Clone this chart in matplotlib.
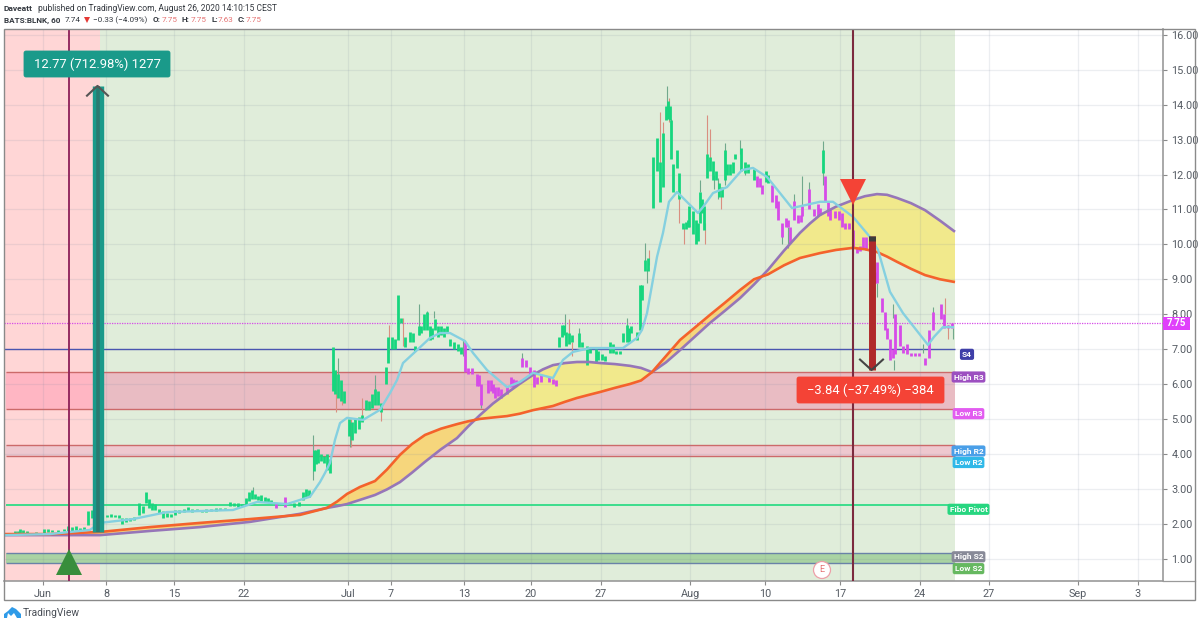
import matplotlib
matplotlib.use("Agg")
import matplotlib.pyplot as plt
from matplotlib.patches import Rectangle, FancyBboxPatch, Polygon, Circle

# ---------- axis ----------
time_ticks = [43, 106, 174, 244, 348, 391, 464, 531, 601, 690, 765, 840, 920, 989, 1078, 1138]
time_labels = ["Jun", "8", "15", "22", "Jul", "7", "13", "20", "27", "Aug", "10", "17", "24", "27", "Sep", "3"]
price_ticks = list(range(1, 17))

# ---------- candles: (bar position, low, high) ----------
green_early = [(15,1.68,1.78),(18,1.7,1.8),(20,1.72,1.85),(23,1.72,1.82),(27,1.72,1.78),(36,1.7,1.76),(44,1.72,1.84),(48,1.76,1.84),(52,1.76,1.82),(58,1.76,1.82),
    (64,1.78,1.84),(68,1.8,1.92),(72,1.8,1.9),(76,1.82,1.92),(80,1.8,1.88),(84,1.82,1.9),(88,1.95,2.35),(92,2.15,2.4),(96,2.2,2.4),(100,2.2,2.35),(107,2.18,2.26),(111,2.2,2.28),
    (115,2.18,2.26),(119,2.17,2.25),(122,2.0,2.15),(126,2.05,2.15),(130,2.08,2.16),(134,2.1,2.2),(139,2.25,2.6),(143,2.3,2.5),(146,2.6,2.9),(149,2.45,2.7),
    (152,2.4,2.6),(155,2.4,2.55),(159,2.3,2.42),(163,2.15,2.35),(167,2.18,2.3),(171,2.2,2.28),(175,2.25,2.38),(179,2.3,2.4),(184,2.32,2.42),(188,2.36,2.48),(192,2.33,2.42),
    (197,2.35,2.42),(202,2.33,2.4),(206,2.33,2.42),(211,2.36,2.42),(216,2.36,2.44),(220,2.38,2.44),(225,2.4,2.45),(230,2.5,2.62),(234,2.5,2.6),(238,2.48,2.58),(242,2.5,2.56),(246,2.52,2.72),
    (249,2.65,2.9),(252,2.7,2.95),(255,2.7,2.85),(258,2.68,2.8),(261,2.66,2.82),(265,2.62,2.75),(268,2.62,2.72),(271,2.6,2.68),
    (294,2.48,2.58),(299,2.5,2.62),(303,2.67,2.9),(306,2.75,3.0),(309,2.75,2.95)]
green_july = [(314,3.5,4.1),(316,3.7,4.1),(318,3.75,4.15),(321,3.8,4.0),(324,3.75,3.95),(327,3.55,4.0),(330,3.45,3.85),(333,5.8,7.05),
    (335,5.7,6.4),(338,5.6,6.3),(341,5.5,6.1),(344,5.45,5.8),(349,4.5,5.0),(352,4.4,4.9),(355,4.6,5.0),(359,4.7,5.05),(362,4.9,5.1),
    (366,5.25,5.55),(369,5.25,5.5),(372,5.3,5.7),(375,5.4,5.85),(378,5.4,5.8),(381,5.2,5.45),(386,6.0,6.5),(388,6.6,7.35),
    (392,7.0,7.35),(395,7.0,7.3),(398,7.25,8.55),(401,7.75,7.9),(405,7.05,7.35),(410,7.2,7.5),(413,7.2,7.45),(415,6.95,7.1),
    (419,7.4,7.65),(421,7.45,7.65),(424,7.55,8.0),(427,7.55,8.05),(430,7.25,7.65),(432,7.3,7.6),(435,7.55,7.85),(438,7.35,7.65),
    (441,7.4,7.65),(444,7.35,7.6),(447,7.45,7.65),(450,7.1,7.3),(454,7.0,7.2),(458,6.95,7.15),(461,6.85,7.05),
    (559,7.05,7.35),(562,7.35,7.7),(564,7.4,7.7),(566,7.1,7.5),(569,7.15,7.45),(572,7.2,7.4),(579,7.05,7.45),(582,7.05,7.2),
    (587,6.55,7.1),(590,6.9,7.0),(596,6.6,7.0),(598,6.7,6.95),(602,6.7,6.85),(605,6.65,6.8),(610,6.9,7.2),(613,6.9,7.15),
    (616,6.85,6.95),(620,6.85,6.95),(623,7.2,7.45),(627,7.2,7.7),(629,7.2,7.6),(631,7.45,7.65),(637,7.25,7.5),(640,7.55,8.85),
    (642,8.4,8.85),(645,9.25,9.55),(648,9.25,9.6)]
green_aug = [(653,11.05,12.5),(657,12.1,13.05),(660,11.2,12.35),(663,11.65,13.2),(666,13.55,13.95),(668,13.6,14.1),(670,13.55,13.95),
    (671,12.45,13.55),(673,11.5,12.3),(677,12.2,12.7),(679,11.3,12.05),(683,10.45,10.6),(686,10.45,10.65),(688,10.5,10.7),
    (689,10.5,11.1),(693,10.3,10.95),(696,10.0,10.7),(698,10.1,10.6),(700,10.6,11.5),(702,10.9,11.3),(704,10.4,11.1),
    (707,11.9,12.6),(710,12.1,12.5),(713,11.85,12.4),(716,11.85,12.1),(719,11.35,11.75),(722,11.35,11.65),(725,11.85,12.7),
    (727,12.0,12.3),(730,12.0,12.3),(733,12.05,12.35),(735,12.45,12.6),(741,12.1,12.75),(745,12.05,12.35),(748,12.05,12.3),
    (754,11.85,12.15),(766,11.8,12.1),(768,11.75,12.0),(823,12.05,12.7)]
magenta_bars = [(276,2.45,2.6),(285,2.48,2.77),(465,6.35,7.2),(468,6.3,6.45),(472,6.3,6.45),(477,5.95,6.3),(479,5.95,6.25),(481,5.4,6.0),
    (488,5.75,6.1),(491,5.8,6.1),(493,5.75,6.0),(495,5.6,5.9),(498,5.65,5.9),(501,5.6,5.85),(507,5.7,5.9),(511,5.9,6.2),(513,5.9,6.15),
    (516,5.95,6.1),(522,6.5,6.75),(526,6.5,6.7),(530,6.3,6.5),(534,5.9,6.4),(537,6.0,6.2),(541,6.05,6.3),(549,6.05,6.2),(553,6.0,6.15),(556,5.95,6.1),
    (757,11.65,11.95),(760,11.65,11.9),(762,11.45,11.7),(772,11.2,11.7),(776,11.05,11.4),(778,10.7,11.25),(782,10.2,10.6),(786,10.5,10.75),
    (788,10.5,10.7),(790,10.05,10.5),(794,10.7,11.25),(798,10.6,10.85),(801,10.65,10.85),(802,10.8,11.1),(809,11.0,11.6),(814,10.8,11.0),
    (818,10.8,11.15),(820,10.85,11.05),(825,11.25,11.95),(828,10.8,11.2),(830,10.7,11.0),(835,10.75,10.95),(839,10.7,10.95),(842,10.5,10.9),
    (845,10.45,10.6),(849,10.45,10.6),(853,9.9,10.4),(857,9.75,9.9),(860,9.8,9.95),(863,9.9,10.2),(866,9.85,10.2),(873,9.2,9.85),(875,8.9,9.2),(877,8.9,9.5),
    (882,8.05,8.45),(885,7.55,8.05),(887,7.3,7.6),(890,6.7,7.3),(893,6.75,7.0),(895,6.85,8.0),(900,7.1,7.7),(903,6.9,7.1),(907,6.85,7.15),
    (911,6.8,6.9),(915,6.8,6.9),(919,6.8,6.9),(925,6.55,6.75),(929,6.75,7.55),(933,7.55,8.05),(941,7.85,8.3),(944,7.6,8.0),(948,7.6,7.7),(952,7.6,7.75)]
salmon_wicks = [(336,5.2,6.4),(342,5.4,5.85),(351,4.2,5.0),(362,5.0,5.6),(381,4.95,5.4),(389,6.9,7.7),(403,7.1,7.9),(569,7.3,7.85),(572,6.8,7.2),
    (649,9.4,9.85),(669,13.5,14.2),(660,12.3,13.8),(663,13.1,13.5),(679,10.6,11.4),(684,10.0,10.5),(707,12.2,13.7),(710,12.4,13.3),
    (721,11.0,11.4),(705,10.0,10.6),(853,9.7,10.3),(945,8.0,8.45),(948,7.3,7.7)]
gray_wicks = [(253,2.9,3.05),(313,3.25,4.54),(338,6.2,6.75),(350,4.2,4.9),(375,5.8,6.25),(419,7.4,8.3),(427,7.9,8.1),(434,7.9,8.1),(481,5.3,5.6),(522,6.7,6.9),(463,6.8,7.3),
    (565,7.5,8.0),(579,7.4,7.6),(627,7.6,7.9),(645,9.5,10.05),(647,8.9,9.3),(641,8.4,8.85),(667,13.9,14.55),(671,13.2,13.6),(714,11.6,12.0),(718,11.3,11.9),
    (725,11.7,12.9),(740,12.6,13.0),(745,12.0,12.3),(700,11.5,11.85),(823,11.7,12.95),(794,11.2,11.45),(809,11.4,11.8),(802,11.0,11.95),(788,9.9,10.5),
    (782,10.0,10.3),(877,8.5,8.9),(894,6.4,6.7),(893,7.9,8.3),(933,8.0,8.2),(953,7.3,7.6),(923,6.9,7.15)]

# ---------- moving averages ----------
fast_x = [4,50,90,100,133,167,200,233,257,287,310,320,325,330,335,340,347,363,380,390,397,403,417,430,440,450,465,473,487,507,520,533,553,563,573,590,623,637,642,647,657,663,669,677,683,698,703,713,727,742,753,767,780,792,820,833,853,870,878,890,903,928,934,943,953]
fast_y = [1.67,1.7,1.82,2.02,2.13,2.33,2.36,2.39,2.62,2.56,2.77,3.19,3.45,3.74,4.4,4.88,5.03,4.97,5.26,5.74,6.11,6.6,6.97,7.32,7.46,7.46,7.23,6.89,6.4,5.91,6.06,6.32,6.17,6.69,6.92,7.03,7.03,7.32,7.55,8.03,9.64,10.33,11.22,11.5,11.33,10.9,11.07,11.47,11.64,12.13,12.19,11.93,11.47,11.04,11.22,11.22,10.79,10.21,9.84,8.64,8.03,7.12,7.35,7.63,7.63]
ribbon_x = [4,50,100,150,200,250,300,327,337,347,360,375,387,400,412,425,441,457,468,480,493,507,520,533,543,553,565,577,589,600,615,630,641,652,666,680,695,710,725,740,754,768,784,800,810,820,836,853,865,877,887,897,911,925,940,955]
slow_y = [1.67,1.67,1.67,1.79,1.9,2.05,2.28,2.45,2.5,2.56,2.68,2.82,2.98,3.19,3.46,3.77,4.13,4.45,4.78,5.11,5.44,5.74,6.01,6.26,6.42,6.54,6.6,6.63,6.63,6.6,6.57,6.52,6.46,6.34,6.62,6.97,7.36,7.75,8.1,8.46,8.85,9.27,9.82,10.33,10.6,10.84,11.08,11.27,11.38,11.44,11.42,11.33,11.18,10.98,10.68,10.36]
mid_y = [1.7,1.7,1.76,1.9,2.02,2.13,2.25,2.45,2.63,2.85,3.05,3.22,3.55,3.97,4.28,4.54,4.72,4.85,4.93,5.0,5.04,5.08,5.15,5.25,5.31,5.37,5.49,5.6,5.69,5.77,5.89,6.0,6.1,6.34,6.8,7.26,7.62,7.98,8.33,8.69,9.0,9.14,9.4,9.61,9.68,9.75,9.84,9.9,9.86,9.78,9.65,9.5,9.3,9.12,9.0,8.92]

# ---------- levels ----------
r3_band = (5.27, 6.33)
r2_band = (3.93, 4.25)
s2_band = (0.87, 1.17)
pivot_level = 2.53
s4_level = 7.0
last_price = 7.75
level_labels = [("S4", 6.85, "#3f3fa8"), ("High R3", 6.2, "#9c4fc0"), ("Low R3", 5.15, "#e25cf0"), ("High R2", 4.08, "#4a9fe8"),
                ("Low R2", 3.75, "#2fb8e8"), ("Fibo Pivot", 2.41, "#27d680"), ("High S2", 1.05, "#888a98"), ("Low S2", 0.71, "#66b860")]
up_move = (1.77, 14.54)
down_move = (10.24, 6.40)

W, H = 1200, 625
plt.rcParams["font.family"] = ["Roboto", "DejaVu Sans"]
fig = plt.figure(figsize=(12, 6.25), dpi=100, facecolor="white")
fx = lambda p: p / W
fy = lambda p: 1 - p / H
ax = fig.add_axes([fx(4), fy(580.5), fx(1163) - fx(4), fy(29) - fy(580.5)])
ax.set_xlim(4, 1163)
ax.set_ylim(0.37, 16.17)
BG_END, RED_END = 955, 100

# backgrounds
ax.axvspan(4, RED_END, color="#ffd6d6", lw=0, zorder=0)
ax.axvspan(RED_END, BG_END, color="#e0edda", lw=0, zorder=0)
ax.set_xticks(time_ticks, time_labels)
ax.set_yticks(price_ticks, [f"{v:.2f}" for v in price_ticks])
ax.yaxis.tick_right()
ax.grid(True, color="#7d8aa0", alpha=0.14, lw=0.9, zorder=1)
ax.set_axisbelow(False)
ax.tick_params(axis="both", colors="#8a8a8a", labelcolor="#555b63", labelsize=7.8, length=3, width=0.8, pad=3)
for s in ("top", "left"):
    ax.spines[s].set_visible(False)
for s in ("bottom", "right"):
    ax.spines[s].set_color("#9a9a9a")
    ax.spines[s].set_linewidth(1.2)

# level bands
for (lo, hi), fc, ec in [(r3_band, "#e9bcc3", "#cc6a6a"), (r2_band, "#eec8cf", "#cc6a6a"), (s2_band, "#a9d3a3", "#6a82a8")]:
    ax.fill_between([5.5, BG_END], lo, hi, color=fc, lw=0, zorder=1.5)
    ax.hlines([lo, hi], 5.5, BG_END, color=ec, lw=1.0, zorder=1.6)
ax.fill_between([5.5, RED_END], *r3_band, color="#ffb6c3", lw=0, zorder=1.55)
ax.hlines(pivot_level, 5.5, BG_END, color="#2fdc86", lw=1.3, zorder=2.6)
ax.hlines(s4_level, 4, BG_END, color="#4a55b0", lw=1.0, zorder=2.6)
ax.hlines(last_price, 4, 1163, color="#d64be8", lw=0.9, linestyles=(0, (1, 1)), zorder=2.6)

# ribbon
above = [m >= s for m, s in zip(mid_y, slow_y)]
below = [m <= s for m, s in zip(mid_y, slow_y)]
ax.fill_between(ribbon_x, slow_y, mid_y, where=above, interpolate=True, color="#f6d67c", lw=0, zorder=2)
ax.fill_between(ribbon_x, slow_y, mid_y, where=below, interpolate=True, color="#f1e98c", lw=0, zorder=2)

# candles
def bars(seq, color, lw, z):
    xs, lo, hi = zip(*seq)
    ax.vlines(xs, lo, hi, color=color, lw=lw, zorder=z)
bars(salmon_wicks, "#d98f80", 0.8, 3)
bars(gray_wicks, "#71a88c", 0.8, 3)
bars(green_early + green_july + green_aug, "#17d67e", 2.0, 3.2)
bars(magenta_bars, "#d64be8", 2.0, 3.2)

ax.plot(ribbon_x, slow_y, color="#9676b8", lw=1.9, zorder=3.4, solid_capstyle="butt")
ax.plot(ribbon_x, mid_y, color="#f4622c", lw=1.9, zorder=3.5, solid_capstyle="butt")
ax.plot(fast_x, fast_y, color="#85d0e0", lw=1.7, zorder=3.6)

# signal vertical lines
ax.axvline(69, color="#8e1f58", lw=1.3, zorder=4)
ax.axvline(853, color="#7c2a3e", lw=1.5, zorder=4)

# measured moves
ax.vlines(97.5, *up_move, color="#1a9a8a", lw=8.2, zorder=5)
ax.vlines(97.5, *up_move, color="#2a7a70", lw=2.6, zorder=5.1)
ax.plot([87, 97.5, 108], [up_move[1] - 0.28, up_move[1], up_move[1] - 0.28], color="#555555", lw=1.5, zorder=5.2)
ax.vlines(871.5, down_move[1], down_move[0], color="#b02a2a", lw=5, zorder=5)
ax.vlines(871.5, down_move[0] - 0.15, down_move[0], color="#3c3c3c", lw=5, zorder=5.1)
ax.plot([860, 871.5, 883], [down_move[1] + 0.3, down_move[1], down_move[1] + 0.3], color="#444444", lw=1.5, zorder=5.2)

# triangles
ax.plot([69], [0.89], marker="^", ms=19, color="#388e3c", mew=0, zorder=6)
ax.plot([853], [11.5], marker="v", ms=19, color="#f44336", mew=0, zorder=6)

# move labels
for (px0, py0, px1, py1, fc, txt) in [(24, 51, 170, 77, "#1a9a8a", "12.77 (712.98%) 1277"), (797, 377, 944, 403, "#f44336", "\u22123.84 (\u221237.49%) \u2212384")]:
    fig.add_artist(FancyBboxPatch((fx(px0 + 2), fy(py1 - 2)), fx(px1 - px0 - 4), (py1 - py0 - 4) / H, boxstyle="round,pad=0.0017", transform=fig.transFigure, fc=fc, ec=fc, lw=0.5, mutation_aspect=W / H, zorder=7))
    fig.text(fx((px0 + px1) / 2), fy((py0 + py1) / 2), txt, color="white", fontsize=9.4, ha="center", va="center", zorder=8)

# level labels
for txt, price, col in level_labels:
    x = 968.5 if txt != "S4" else 967
    ax.text(x, price, txt, color="white", fontsize=6.0, fontweight="bold", ha="center", va="center", zorder=7,
            bbox=dict(boxstyle="round,pad=0.25", fc=col, ec="none"))

# earnings marker
fig.add_artist(Circle((8.22, 0.55), 0.085, transform=fig.dpi_scale_trans, fc="white", ec="#eda0a8", lw=0.9, zorder=7))
fig.text(fx(822), fy(570), "E", color="#e57373", fontsize=6.5, ha="center", va="center", zorder=8)

# price tag
fig.add_artist(Rectangle((fx(1163), fy(329.5)), 27 / W, 13 / H, transform=fig.transFigure, fc="#e040fb", ec="none", zorder=7))
fig.text(fx(1176.5), fy(323.5), "7.75", color="white", fontsize=7.0, fontweight="bold", ha="center", va="center", zorder=8)

# bottom separator continuing through the price scale
fig.add_artist(plt.Line2D([fx(1163), fx(1195)], [fy(580.5), fy(580.5)], transform=fig.transFigure, color="#9a9a9a", lw=0.9, zorder=9))
# outer frame
fig.add_artist(Rectangle((fx(4), fy(600)), 1191 / W, 571 / H, transform=fig.transFigure, fc="none", ec="#8a8a8a", lw=1.0, zorder=9))

# header
dark, red = "#33383f", "#e57373"
fig.text(fx(4), fy(8.5), "Daveatt", fontsize=6.1, fontweight="bold", color=dark, va="center")
fig.text(fx(37.5), fy(8.5), "published on TradingView.com, August 26, 2020 14:10:15 CEST", fontsize=6.15, color=dark, va="center")
for px, txt, col, wt in [(4, "BATS:BLNK, 60", dark, "bold"), (65, "7.74", dark, "normal"), (93, "\u22120.33 (\u22124.09%)", dark, "normal"),
                         (153, "O:", dark, "bold"), (162, "7.75", red, "normal"), (182, "H:", dark, "bold"), (191, "7.75", red, "normal"),
                         (211, "L:", dark, "bold"), (218, "7.63", red, "normal"), (238, "C:", dark, "bold"), (246, "7.75", red, "normal")]:
    fig.text(fx(px), fy(20), txt, fontsize=5.9, fontweight=wt, color=col, va="center")
fig.add_artist(Polygon([(fx(84), fy(17)), (fx(90), fy(17)), (fx(87), fy(23))], transform=fig.transFigure, fc="#e53935", ec="none"))

# footer logo
fig.add_artist(Polygon([(fx(p), fy(q)) for p, q in [(4, 618), (4, 614), (8, 611), (12, 607), (16, 609), (21, 614), (21, 618), (17, 618), (14, 613), (11, 616), (8, 613), (7, 618)]],
                       transform=fig.transFigure, fc="#2f9be8", ec="none"))
fig.text(fx(23), fy(612.5), "TradingView", fontsize=7.4, color="#4a4f57", va="center")

fig.savefig("out.png", dpi=100)
